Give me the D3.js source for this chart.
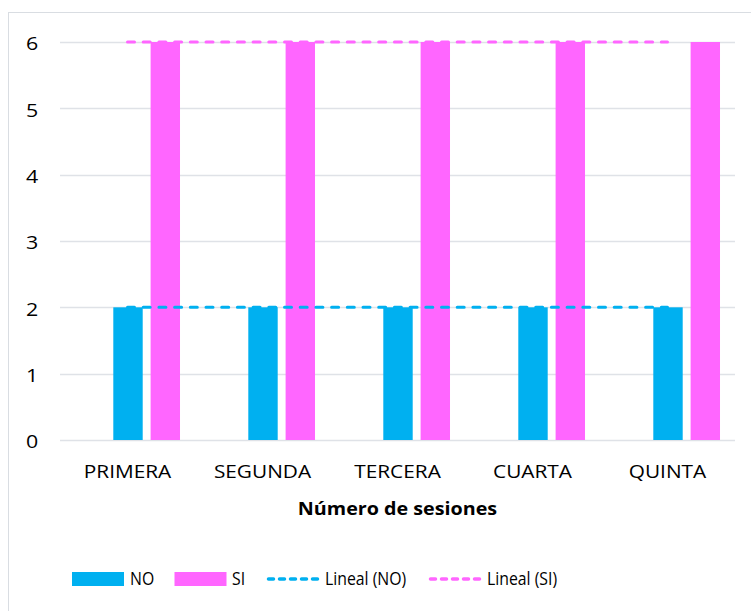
<!DOCTYPE html>
<html>
<head>
<meta charset="utf-8">
<script src="https://cdn.jsdelivr.net/npm/d3@7"></script>
<style>
  html, body { margin: 0; padding: 0; background: #ffffff; }
  svg { display: block; }
  text { font-family: "Open Sans", "Noto Sans", sans-serif; fill: #000; }
</style>
</head>
<body>
<svg id="chart" width="751" height="611"></svg>
<script>
// ---- data ----
const categories = ["PRIMERA", "SEGUNDA", "TERCERA", "CUARTA", "QUINTA"];
const seriesSlots = ["", "NO", "SI"];          // first slot is an empty series in the original
const noValues = [2, 2, 2, 2, 2];
const siValues = [6, 6, 6, 6, 6];
const yTicks = [0, 1, 2, 3, 4, 5, 6];
const axisTitle = "Número de sesiones";
const legendLabels = ["NO", "SI", "Lineal (NO)", "Lineal (SI)"];

// ---- styles ----
const colNO = "#00B0F0", colSI = "#FF66FF", gridCol = "#dfe2e7";
const fs = 18.6;

const svg = d3.select("#chart");

// chart frame (extends past the right/bottom edges as in the reference)
svg.append("rect").attr("x", 8.5).attr("y", 12.5).attr("width", 760).attr("height", 620)
  .attr("fill", "#fff").attr("stroke", "#d9dde2").attr("stroke-width", 1);

const plot = { left: 60, right: 735, top: 42, bottom: 440 };

const x0 = d3.scaleBand().domain(categories).range([plot.left, plot.right])
  .paddingInner(0.2296).paddingOuter(0.1148);
const x1 = d3.scaleBand().domain(seriesSlots).range([0, x0.bandwidth()])
  .paddingInner(0.212).paddingOuter(0);
const y = d3.scaleLinear().domain([0, 6]).range([plot.bottom, plot.top]);

// gridlines
svg.append("g").selectAll("line").data(yTicks).join("line")
  .attr("x1", plot.left).attr("x2", plot.right)
  .attr("y1", d => Math.round(y(d)) + 0.5).attr("y2", d => Math.round(y(d)) + 0.5)
  .attr("stroke", gridCol).attr("stroke-width", 1.3);

// y tick labels
svg.append("g").selectAll("text").data(yTicks).join("text")
  .attr("transform", d => `translate(32,${y(d) + 8.3}) scale(1.15,1)`)
  .attr("text-anchor", "middle").attr("font-size", fs).text(d => d);

// bars
const seriesData = [
  { key: "NO", values: noValues, color: colNO },
  { key: "SI", values: siValues, color: colSI }
];
const gBars = svg.append("g");
seriesData.forEach(s => {
  gBars.selectAll(null).data(categories).join("rect")
    .attr("x", c => x0(c) + x1(s.key) + 0.5)
    .attr("width", x1.bandwidth())
    .attr("y", (c, i) => y(s.values[i]))
    .attr("height", (c, i) => y(0) - y(s.values[i]))
    .attr("fill", s.color);
});

// linear trendlines (least squares over category index)
function linFit(vals) {
  const xs = vals.map((v, i) => i + 1);
  const mx = d3.mean(xs), my = d3.mean(vals);
  const sxx = d3.sum(xs, xv => (xv - mx) ** 2);
  const sxy = d3.sum(xs.map((xv, i) => (xv - mx) * (vals[i] - my)));
  const b = sxx ? sxy / sxx : 0, a = my - b * mx;
  return xs.map(xv => a + b * xv);
}
const cx = c => x0(c) + x1("NO") + x1.bandwidth() / 2;
const line = d3.line().x((d, i) => cx(categories[i])).y(d => y(d));
[{ vals: noValues, color: colNO }, { vals: siValues, color: colSI }].forEach(t => {
  svg.append("path").datum(linFit(t.vals)).attr("d", line)
    .attr("fill", "none").attr("stroke", t.color).attr("stroke-width", 3)
    .attr("stroke-dasharray", "7,8.7").attr("stroke-linecap", "round");
});

// x labels
svg.append("g").selectAll("text").data(categories).join("text")
  .attr("transform", c => `translate(${x0(c) - x0.step() * 0.1148 + x0.step() / 2},478) scale(1.12,1)`)
  .attr("text-anchor", "middle").attr("font-size", fs).text(c => c);

// axis title
svg.append("text")
  .attr("transform", `translate(${(plot.left + plot.right) / 2},515) scale(1.06,1)`)
  .attr("text-anchor", "middle").attr("font-size", fs).attr("font-weight", "bold")
  .text(axisTitle);

// legend
const legend = svg.append("g");
const legItems = [
  { type: "rect", color: colNO, x: 72, tx: 130, label: legendLabels[0] },
  { type: "rect", color: colSI, x: 174.5, tx: 232, label: legendLabels[1] },
  { type: "line", color: colNO, x: 267, tx: 325, label: legendLabels[2] },
  { type: "line", color: colSI, x: 429, tx: 487, label: legendLabels[3] }
];
legItems.forEach(it => {
  if (it.type === "rect") {
    legend.append("rect").attr("x", it.x).attr("y", 572).attr("width", 52).attr("height", 14)
      .attr("fill", it.color);
  } else {
    legend.append("line").attr("x1", it.x + 1.5).attr("x2", it.x + 51.5)
      .attr("y1", 579).attr("y2", 579)
      .attr("stroke", it.color).attr("stroke-width", 3.5)
      .attr("stroke-dasharray", "5,6").attr("stroke-linecap", "round");
  }
  legend.append("text").attr("transform", `translate(${it.tx},585) scale(0.85,1)`)
    .attr("font-size", fs).text(it.label);
});
</script>
</body>
</html>
